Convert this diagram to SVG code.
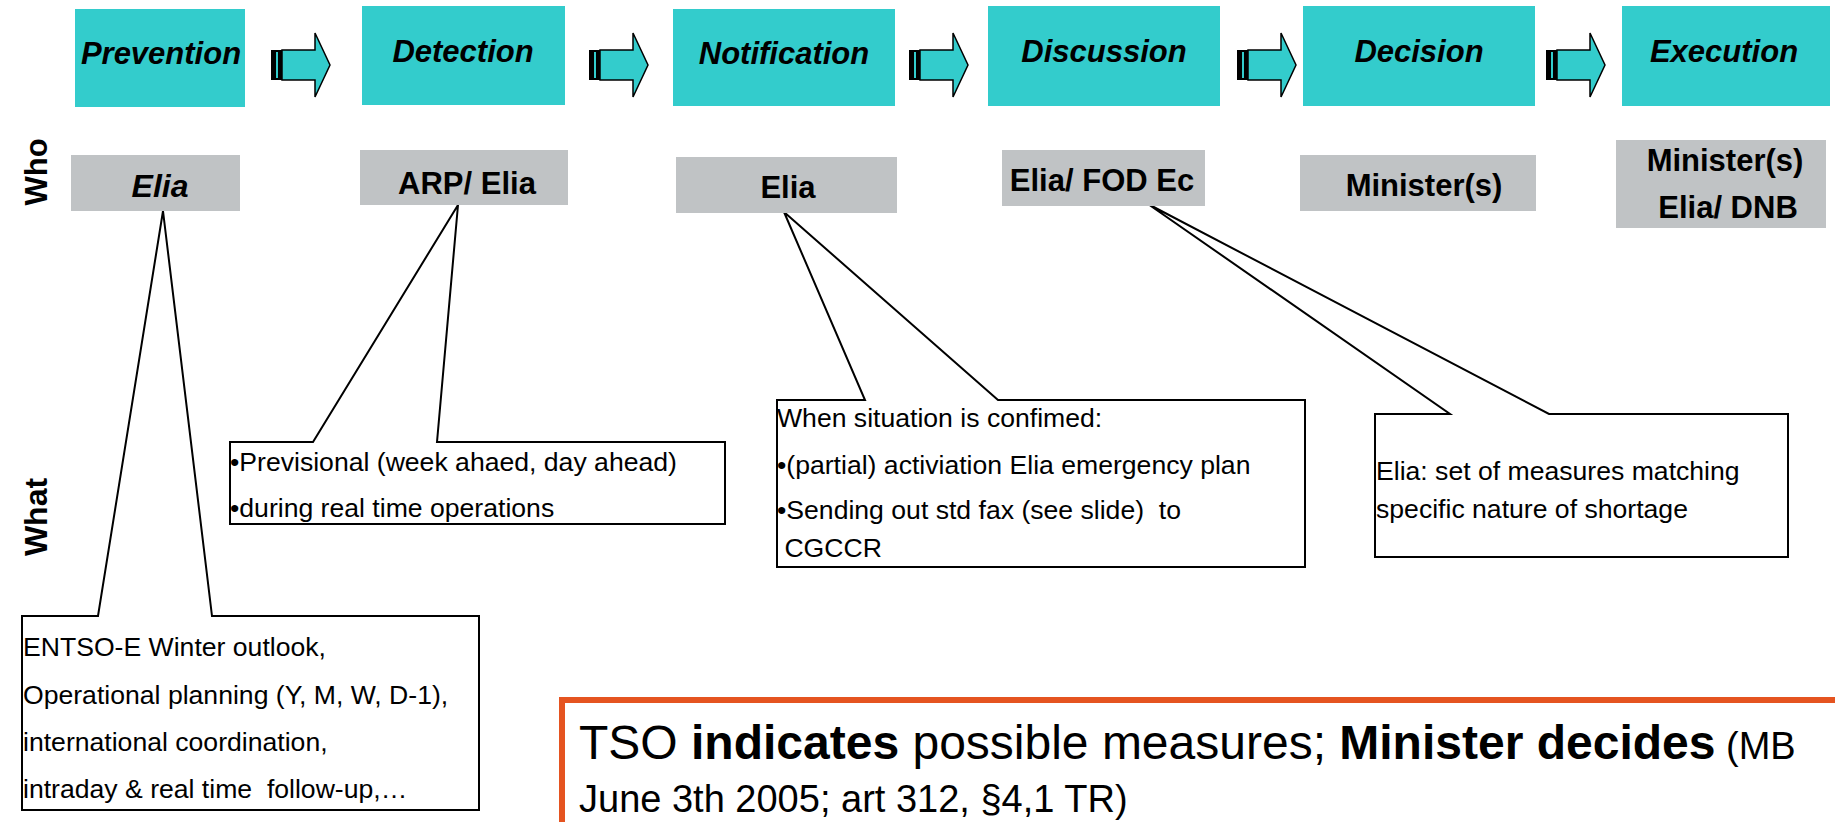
<svg xmlns="http://www.w3.org/2000/svg" width="1835" height="822" viewBox="0 0 1835 822">
<style>
.phase{fill:#33CCCC}
.who{fill:#C0C3C5}
.ph{font-family:"Liberation Sans",Arial,sans-serif;font-weight:bold;font-style:italic;font-size:31px;fill:#000;text-anchor:middle}
.wt{font-family:"Liberation Sans",Arial,sans-serif;font-weight:bold;font-size:31px;fill:#000;text-anchor:middle}
.lab{font-family:"Liberation Sans",Arial,sans-serif;font-weight:bold;font-size:31px;fill:#000;text-anchor:middle}
.co{fill:#fff;stroke:#000;stroke-width:2}
.ct{font-family:"Liberation Sans",Arial,sans-serif;font-size:26.6px;fill:#000;white-space:pre}
.big{font-family:"Liberation Sans",Arial,sans-serif;font-size:48px;fill:#000;white-space:pre}
</style>
<defs>
<g id="arrow">
<rect x="0" y="50" width="12" height="30" fill="#000"/>
<rect x="5" y="52" width="2" height="26" fill="#33CCCC"/>
<path d="M11,50 H44 V33 L59,65 L44,97 V80 H11 Z" fill="#33CCCC" stroke="#000" stroke-width="1.5" stroke-linejoin="miter"/>
</g>
</defs>
<rect width="1835" height="822" fill="#fff"/>

<g id="labels">
<text class="lab" transform="translate(47,172) rotate(-90)">Who</text>
<text class="lab" transform="translate(47,517) rotate(-90)" style="font-size:32px">What</text>
</g>

<g id="callout-prevention">
<polygon class="co" points="22,616 98,616 163,211 212,616 479,616 479,810 22,810"/>
<text class="ct" x="23" y="656">ENTSO-E Winter outlook,</text>
<text class="ct" x="23" y="704">Operational planning (Y, M, W, D-1),</text>
<text class="ct" x="23" y="751">international coordination,</text>
<text class="ct" x="23" y="798">intraday &amp; real time  follow-up,…</text>
</g>
<g id="callout-detection">
<polygon class="co" points="230,442 313,442 458,205 437,442 725,442 725,524 230,524"/>
<text class="ct" x="230" y="471">•Previsional (week ahaed, day ahead)</text>
<text class="ct" x="230" y="517">•during real time operations</text>
</g>
<g id="callout-notification">
<polygon class="co" points="777,400 865,400 784,212 998,400 1305,400 1305,567 777,567"/>
<text class="ct" x="777" y="427">When situation is confimed:</text>
<text class="ct" x="777" y="474">•(partial) activiation Elia emergency plan</text>
<text class="ct" x="777" y="519">•Sending out std fax (see slide)  to</text>
<text class="ct" x="777" y="557"> CGCCR</text>
</g>
<g id="callout-discussion">
<polygon class="co" points="1375,414 1450,414 1148,204 1549,414 1788,414 1788,557 1375,557"/>
<text class="ct" x="1376" y="480">Elia: set of measures matching</text>
<text class="ct" x="1376" y="518">specific nature of shortage</text>
</g>

<g id="prevention"><rect class="phase" x="75" y="9" width="170" height="98"/><text class="ph" x="161" y="64">Prevention</text></g>
<g id="detection"><rect class="phase" x="362" y="6" width="203" height="99"/><text class="ph" x="463" y="62">Detection</text></g>
<g id="notification"><rect class="phase" x="673" y="9" width="222" height="97"/><text class="ph" x="784" y="64">Notification</text></g>
<g id="discussion"><rect class="phase" x="988" y="6" width="232" height="100"/><text class="ph" x="1104" y="62">Discussion</text></g>
<g id="decision"><rect class="phase" x="1303" y="6" width="232" height="100"/><text class="ph" x="1419" y="62">Decision</text></g>
<g id="execution"><rect class="phase" x="1622" y="6" width="208" height="100"/><text class="ph" x="1724" y="62">Execution</text></g>

<g id="who-prevention"><rect class="who" x="71" y="155" width="169" height="56"/><text class="ph" x="160" y="197" style="font-size:32px">Elia</text></g>
<g id="who-detection"><rect class="who" x="360" y="150" width="208" height="55"/><text class="wt" x="467" y="194">ARP/ Elia</text></g>
<g id="who-notification"><rect class="who" x="676" y="157" width="221" height="56"/><text class="wt" x="788" y="198">Elia</text></g>
<g id="who-discussion"><rect class="who" x="1002" y="150" width="203" height="56"/><text class="wt" x="1102" y="191">Elia/ FOD Ec</text></g>
<g id="who-decision"><rect class="who" x="1300" y="155" width="236" height="56"/><text class="wt" x="1424" y="196">Minister(s)</text></g>
<g id="who-execution"><rect class="who" x="1616" y="140" width="210" height="88"/><text class="wt" x="1725" y="171">Minister(s)</text><text class="wt" x="1728" y="218">Elia/ DNB</text></g>

<g id="connectors">
<use href="#arrow" x="271" y="0"/>
<use href="#arrow" x="589" y="0"/>
<use href="#arrow" x="909" y="0"/>
<use href="#arrow" x="1237" y="0"/>
<use href="#arrow" x="1546" y="0"/>
</g>

<g id="conclusion">
<rect x="562" y="700" width="1320" height="200" fill="none" stroke="#E55420" stroke-width="6"/>
<text class="big" x="579" y="759">TSO <tspan font-weight="bold">indicates</tspan> possible measures; <tspan font-weight="bold">Minister decides</tspan><tspan font-size="38px"> (MB</tspan></text>
<text class="big" x="579" y="812" style="font-size:38px">June 3th 2005; art 312, §4,1 TR)</text>
</g>
</svg>
